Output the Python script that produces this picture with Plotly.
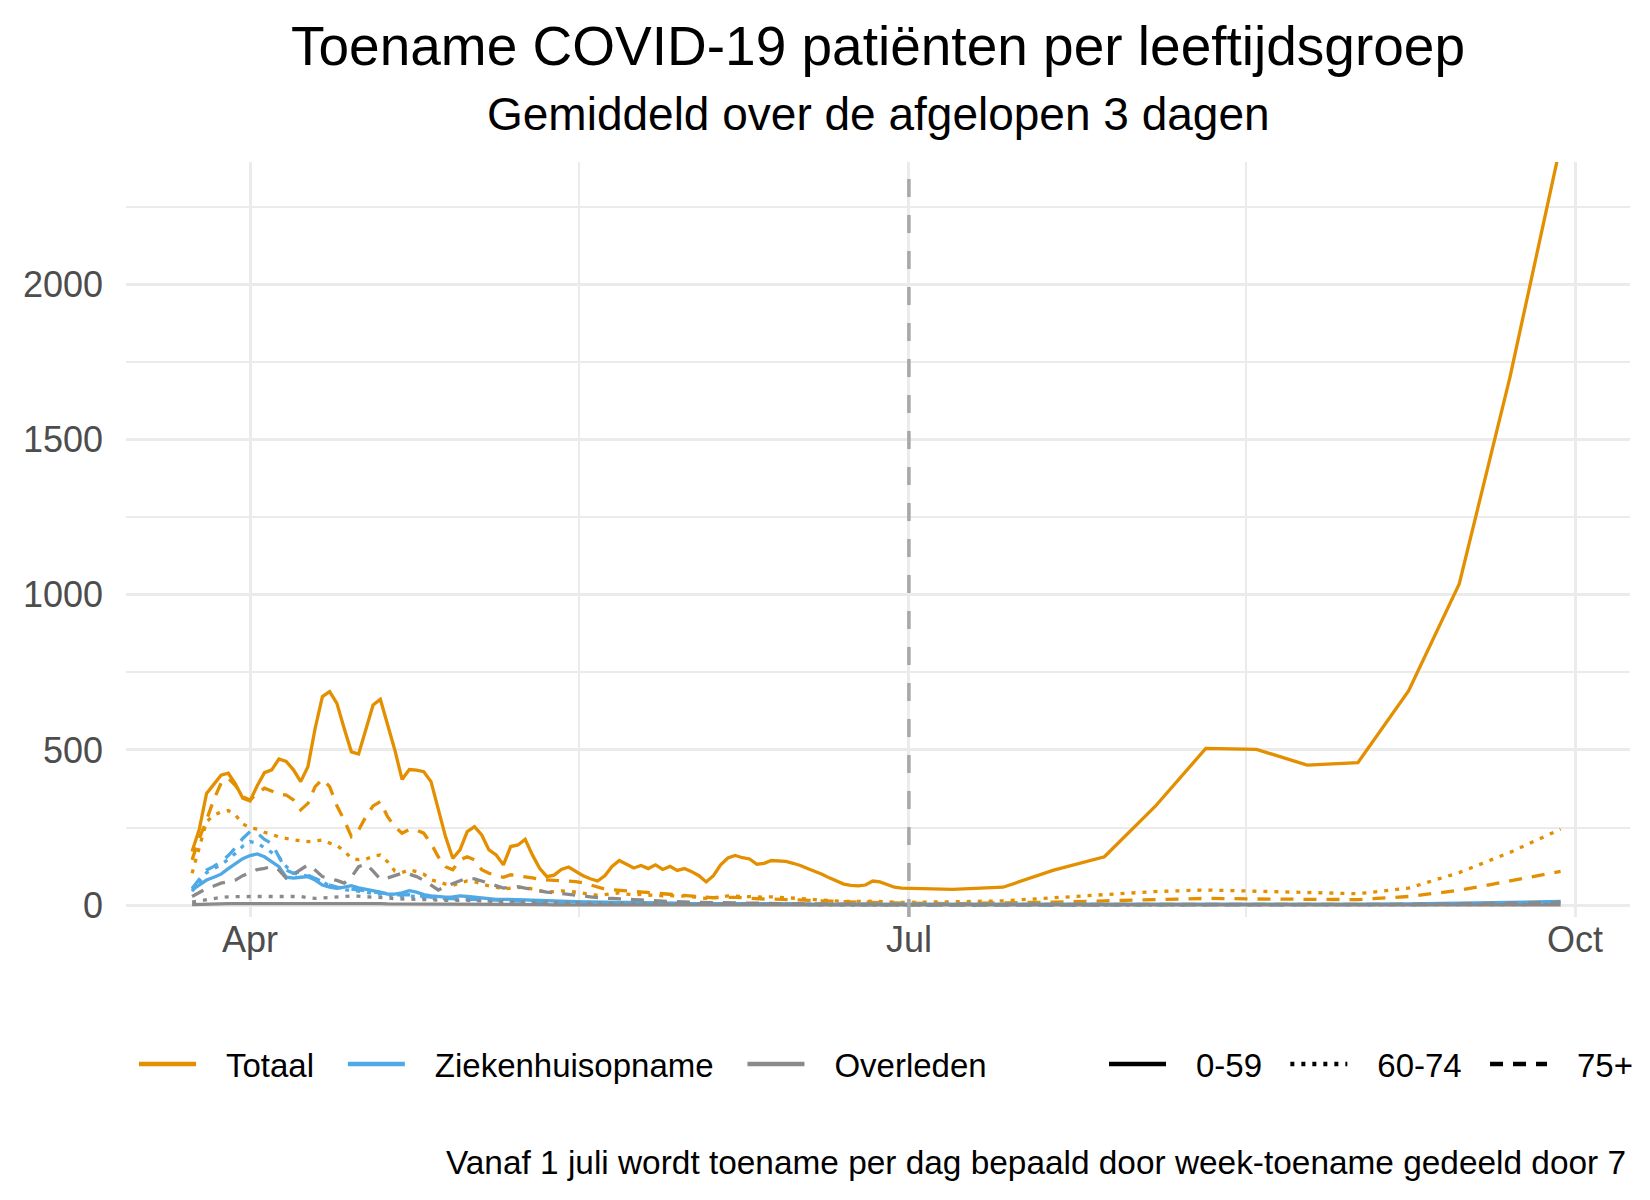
import pandas as pd
import plotly.graph_objects as go

# ---------------- data ----------------
daily_start = "2020-03-24"
daily_end = "2020-06-30"
weekly_start = "2020-07-07"
weekly_end = "2020-09-29"

categories = ["Totaal", "Ziekenhuisopname", "Overleden"]
age_groups = ["0-59", "60-74", "75+"]

# Totaal
tot_0_59_daily = [173, 245, 360, 390, 419, 425, 390, 345, 336, 385, 427, 436, 471, 463, 436, 398, 446, 570,
                  672, 688, 650, 570, 494, 487, 570, 645, 663, 586, 500, 405, 437, 435, 430, 398, 307, 221,
                  151, 178, 237, 253, 226, 178, 162, 130, 189, 194, 212, 162, 119, 92, 97, 115, 123, 108,
                  95, 85, 78, 95, 125, 144, 133, 120, 128, 118, 130, 115, 125, 112, 118, 108, 95, 75,
                  95, 130, 152, 160, 153, 149, 132, 135, 144, 143, 141, 135, 128, 118, 110, 100, 88,
                  78, 68, 64, 62, 65, 78, 75, 66, 58, 55]
tot_60_74_daily = [103, 190, 269, 290, 300, 305, 290, 262, 250, 245, 235, 228, 220, 215, 210, 207, 205, 207,
                   210, 200, 192, 175, 151, 147, 148, 158, 162, 140, 110, 105, 114, 108, 100, 82, 75, 68,
                   64, 72, 78, 76, 68, 62, 58, 52, 55, 57, 58, 52, 46, 42, 44, 46, 45, 42,
                   38, 35, 32, 34, 38, 40, 36, 34, 35, 32, 33, 30, 31, 29, 30, 27, 25, 22,
                   24, 28, 30, 29, 28, 27, 25, 26, 27, 26, 24, 22, 21, 20, 18, 16, 15,
                   13, 12, 12, 11, 12, 13, 12, 11, 10, 9]
tot_75_daily = [146, 215, 275, 340, 393, 409, 385, 350, 338, 360, 377, 367, 358, 355, 339, 307, 328, 382,
                406, 382, 320, 275, 221, 242, 285, 320, 334, 285, 253, 232, 244, 242, 232, 199, 156, 124,
                114, 146, 156, 146, 114, 103, 95, 90, 98, 95, 92, 88, 83, 82, 81, 79, 77, 76,
                72, 66, 58, 52, 50, 48, 46, 44, 42, 40, 38, 36, 34, 32, 30, 28, 27, 25,
                24, 25, 26, 25, 24, 22, 21, 20, 20, 19, 18, 17, 16, 15, 14, 13, 12,
                11, 10, 10, 9, 9, 9, 8, 8, 7, 7]
tot_0_59_weekly = [51, 58, 113, 156, 318, 505, 502, 451, 459, 690, 1035, 1700, 2450]
tot_60_74_weekly = [11, 14, 24, 34, 44, 49, 45, 41, 37, 55, 105, 170, 245]
tot_75_weekly = [5, 7, 10, 14, 18, 22, 20, 18, 18, 28, 48, 78, 109]

# Ziekenhuisopname
zh_0_59_daily = [49, 65, 81, 90, 100, 118, 135, 150, 160, 165, 156, 140, 124, 90, 87, 90, 92, 81,
                 65, 58, 54, 58, 63, 56, 52, 46, 42, 36, 36, 40, 47, 42, 34, 30, 28, 26,
                 27, 30, 28, 26, 22, 20, 19, 19, 19, 18, 17, 16, 15, 15, 14, 13, 12, 12,
                 11, 11, 10, 10, 10, 9, 9, 9, 8, 8, 8, 7, 7, 7, 6, 6, 6, 5,
                 5, 6, 6, 6, 5, 5, 5, 5, 5, 4, 4, 4, 4, 4, 3, 3, 3,
                 3, 3, 3, 2, 2, 2, 2, 2, 2, 2]
zh_60_74_daily = [45, 75, 105, 118, 130, 148, 167, 190, 205, 200, 185, 170, 155, 125, 103, 98, 94, 85,
                  75, 62, 55, 50, 48, 46, 42, 38, 35, 32, 30, 29, 30, 28, 25, 22, 20, 19,
                  19, 20, 19, 17, 15, 14, 13, 13, 13, 12, 11, 11, 10, 10, 9, 9, 9, 8,
                  8, 8, 7, 7, 7, 6, 6, 6, 5, 5, 5, 5, 5, 4, 4, 4, 4, 4,
                  4, 4, 4, 3, 3, 3, 3, 3, 3, 3, 2, 2, 2, 2, 2, 2, 2,
                  2, 1, 1, 1, 1, 1, 1, 1, 1, 1]
zh_75_daily = [54, 85, 113, 125, 140, 160, 185, 215, 237, 232, 212, 199, 156, 113, 103, 108, 97, 87,
               75, 65, 58, 55, 52, 50, 47, 43, 40, 36, 34, 33, 34, 31, 28, 25, 23, 22,
               21, 22, 21, 19, 17, 16, 15, 14, 14, 13, 12, 12, 11, 11, 10, 10, 10, 9,
               9, 9, 8, 8, 8, 7, 7, 7, 6, 6, 6, 6, 5, 5, 5, 5, 5, 4,
               4, 4, 4, 4, 3, 3, 3, 3, 3, 3, 3, 2, 2, 2, 2, 2, 2,
               2, 2, 2, 1, 1, 1, 1, 1, 1, 1]
zh_0_59_weekly = [1, 1, 1, 1, 2, 2, 2, 2, 3, 4, 6, 8, 12]
zh_60_74_weekly = [0, 0, 0, 1, 1, 1, 1, 1, 2, 2, 3, 5, 8]
zh_75_weekly = [0, 0, 0, 0, 1, 1, 1, 1, 1, 2, 3, 4, 6]

# Overleden
ov_0_59_daily = [2, 3, 3, 4, 4, 5, 5, 5, 6, 6, 6, 7, 7, 6, 6, 6, 7, 7,
                 7, 6, 6, 6, 5, 5, 5, 5, 5, 4, 4, 4, 4, 4, 3, 3, 3, 3,
                 3, 3, 3, 3, 2, 2, 2, 2, 2, 2, 2, 2, 2, 2, 1, 1, 1, 1,
                 1, 1, 1, 1, 1, 1, 1, 1, 1, 1, 1, 1, 1, 1, 1, 1, 1, 1,
                 0, 0, 0, 0, 0, 0, 0, 0, 0, 0, 0, 0, 0, 0, 0, 0, 0,
                 0, 0, 0, 0, 0, 0, 0, 0, 0, 0]
ov_60_74_daily = [10, 14, 18, 22, 25, 27, 28, 28, 28, 28, 28, 28, 29, 30, 30, 28, 24, 22,
                  23, 25, 27, 29, 30, 29, 28, 27, 25, 23, 21, 20, 19, 18, 17, 16, 15, 15,
                  15, 16, 16, 15, 14, 13, 12, 12, 12, 11, 11, 10, 10, 9, 9, 9, 8, 8,
                  8, 7, 7, 7, 6, 6, 6, 6, 5, 5, 5, 5, 5, 4, 4, 4, 4, 4,
                  4, 3, 3, 3, 3, 3, 3, 3, 2, 2, 2, 2, 2, 2, 2, 2, 2,
                  1, 1, 1, 1, 1, 1, 1, 1, 1, 1]
ov_75_daily = [28, 40, 54, 62, 71, 76, 81, 95, 105, 115, 119, 124, 113, 87, 100, 115, 130, 113,
               92, 85, 80, 71, 90, 124, 133, 110, 84, 88, 95, 103, 100, 92, 80, 65, 49, 60,
               70, 79, 87, 85, 78, 70, 62, 55, 58, 60, 55, 50, 45, 42, 40, 38, 36, 34,
               30, 27, 24, 22, 22, 20, 19, 18, 17, 15, 14, 13, 12, 11, 10, 10, 9, 9,
               8, 8, 8, 7, 7, 7, 6, 6, 6, 5, 5, 5, 5, 4, 4, 4, 4,
               3, 3, 3, 3, 3, 2, 2, 2, 2, 2]
ov_0_59_weekly = [0, 0, 0, 0, 0, 0, 0, 0, 0, 0, 0, 1, 1]
ov_60_74_weekly = [0, 0, 0, 0, 0, 0, 0, 1, 1, 1, 1, 2, 3]
ov_75_weekly = [1, 1, 1, 1, 1, 1, 2, 2, 2, 3, 4, 6, 9]

x_tick_vals = ["2020-04-01", "2020-07-01", "2020-10-01"]
x_tick_text = ["Apr", "Jul", "Oct"]
x_minor_vals = ["2020-05-16 12:00", "2020-08-16 12:00"]
y_tick_vals = [0, 500, 1000, 1500, 2000]
change_date = "2020-07-01"

title_text = "Toename COVID-19 patiënten per leeftijdsgroep"
subtitle_text = "Gemiddeld over de afgelopen 3 dagen"
caption_text = "Vanaf 1 juli wordt toename per dag bepaald door week-toename gedeeld door 7"

# ---------------- styling ----------------
FONT = "Liberation Sans, Arial, Helvetica, sans-serif"
colors = {"Totaal": "#E38F00", "Ziekenhuisopname": "#4EA9E6", "Overleden": "#8A8A8A"}
dashes = {"0-59": "solid", "60-74": "4px,7px", "75+": "13px,10px"}

dates = list(pd.date_range(daily_start, daily_end, freq="D")) + \
    list(pd.date_range(weekly_start, weekly_end, freq="7D"))

series = {
    ("Totaal", "0-59"): tot_0_59_daily + tot_0_59_weekly,
    ("Totaal", "60-74"): tot_60_74_daily + tot_60_74_weekly,
    ("Totaal", "75+"): tot_75_daily + tot_75_weekly,
    ("Ziekenhuisopname", "0-59"): zh_0_59_daily + zh_0_59_weekly,
    ("Ziekenhuisopname", "60-74"): zh_60_74_daily + zh_60_74_weekly,
    ("Ziekenhuisopname", "75+"): zh_75_daily + zh_75_weekly,
    ("Overleden", "0-59"): ov_0_59_daily + ov_0_59_weekly,
    ("Overleden", "60-74"): ov_60_74_daily + ov_60_74_weekly,
    ("Overleden", "75+"): ov_75_daily + ov_75_weekly,
}

fig = go.Figure()
for cat in categories:
    for age in age_groups:
        fig.add_trace(go.Scatter(
            x=dates, y=series[(cat, age)], mode="lines",
            line=dict(color=colors[cat], width=3.3, dash=dashes[age]),
            showlegend=False, hoverinfo="skip"))

LEAD = "\u00a0\u00a0\u2009"
TRAIL1 = "\u00a0\u00a0\u2006"
TRAIL2 = "\u00a0\u00a0"
for cat in categories:
    fig.add_trace(go.Scatter(x=[None], y=[None], mode="lines", name=LEAD + cat + TRAIL1,
                             line=dict(color=colors[cat], width=4.5), legend="legend"))
for age in age_groups:
    fig.add_trace(go.Scatter(x=[None], y=[None], mode="lines", name=LEAD + age + TRAIL2,
                             line=dict(color="black", width=4.5, dash=dashes[age]), legend="legend2"))

fig.add_shape(type="line", xref="x", yref="paper", x0=change_date, x1=change_date, y0=0, y1=1,
              line=dict(color="#A8A8A8", width=3.5, dash="18px,18px"), layer="above")

# body margin is removed (post_script), figure fills the 1650x1200 page
W, H = 1650, 1200
ml, mr, mt, mb = 126, 20, 162, 283
plot_h = H - mt - mb
plot_w = W - ml - mr

def py(ypage):
    return (H - mb - ypage) / plot_h

def px(xpage):
    return (xpage - ml) / plot_w

fig.add_annotation(text=title_text, xref="paper", yref="paper", x=0.5, y=py(46),
                   xanchor="center", yanchor="middle", showarrow=False,
                   font=dict(family=FONT, size=55, color="black"))
fig.add_annotation(text=subtitle_text, xref="paper", yref="paper", x=0.5, y=py(114),
                   xanchor="center", yanchor="middle", showarrow=False,
                   font=dict(family=FONT, size=46, color="black"))
fig.add_annotation(text=caption_text, xref="paper", yref="paper", x=0.999, y=py(1162),
                   xanchor="right", yanchor="middle", showarrow=False,
                   font=dict(family=FONT, size=33.4, color="black"))

grid_major = "#EBEBEB"
fig.update_layout(
    width=W, height=H,
    margin=dict(l=ml, r=mr, t=mt, b=mb, autoexpand=False),
    paper_bgcolor="white", plot_bgcolor="white",
    font=dict(family=FONT, color="black"),
    xaxis=dict(
        type="date", range=["2020-03-14 21:00", "2020-10-08 14:00"],
        tickvals=x_tick_vals, ticktext=x_tick_text, ticks="",
        showgrid=True, gridcolor=grid_major, gridwidth=3,
        zeroline=False, showline=False,
        tickfont=dict(family=FONT, size=36, color="#4D4D4D"),
        ticklabelstandoff=-2,
        minor=dict(tickvals=x_minor_vals, showgrid=True, gridcolor=grid_major, gridwidth=1.6, ticks=""),
    ),
    yaxis=dict(
        range=[-38, 2394], tickvals=y_tick_vals, ticks="",
        showgrid=True, gridcolor=grid_major, gridwidth=3,
        zeroline=False, showline=False,
        tickfont=dict(family=FONT, size=36, color="#4D4D4D"),
        ticklabelstandoff=22,
        minor=dict(dtick=250, showgrid=True, gridcolor=grid_major, gridwidth=1.6, ticks=""),
    ),
    legend=dict(orientation="h", x=px(134), xanchor="left", y=py(1064), yanchor="middle",
                font=dict(family=FONT, size=33, color="black"), itemwidth=57,
                bgcolor="rgba(0,0,0,0)", traceorder="normal"),
    legend2=dict(orientation="h", x=px(1104), xanchor="left", y=py(1064), yanchor="middle",
                 font=dict(family=FONT, size=33, color="black"), itemwidth=57,
                 bgcolor="rgba(0,0,0,0)", traceorder="normal"),
)

fig.write_html("out.html", config={"displayModeBar": False},
               post_script="document.body.style.margin='0px';")
